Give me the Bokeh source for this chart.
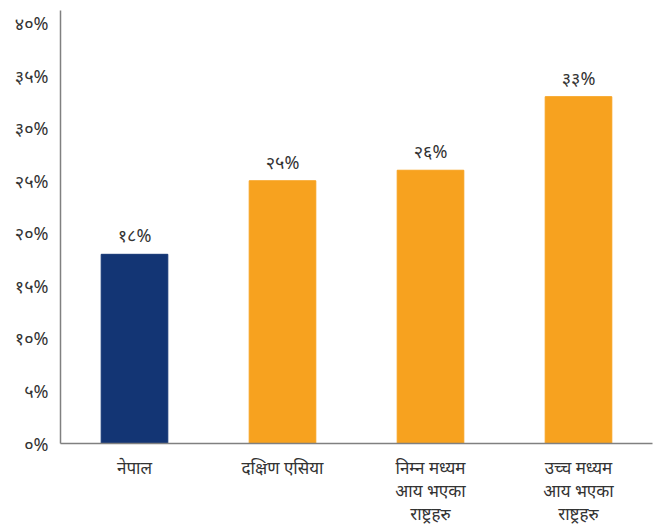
from bokeh.plotting import figure
from bokeh.models import ColumnDataSource, LabelSet, FixedTicker
from bokeh.embed import file_html
from bokeh.resources import INLINE
from bokeh.core.properties import value

categories = ["नेपाल", "दक्षिण एसिया", "निम्न मध्यम\nआय भएका\nराष्ट्रहरु", "उच्च मध्यम\nआय भएका\nराष्ट्रहरु"]
values = [18, 25, 26, 33]
value_labels = ["१८%", "२५%", "२६%", "३३%"]
colors = ["#133574", "#F7A21F", "#F7A21F", "#F7A21F"]
y_ticks = [0, 5, 10, 15, 20, 25, 30, 35, 40]
y_tick_labels = ["०%", "५%", "१०%", "१५%", "२०%", "२५%", "३०%", "३५%", "४०%"]

src = ColumnDataSource(dict(cat=categories, val=values, lab=value_labels, col=colors))

p = figure(x_range=categories, y_range=(0, 41.2), width=653, height=527,
           output_backend="svg", toolbar_location=None,
           min_border_left=60, min_border_right=1, min_border_top=10, min_border_bottom=84)
p.vbar(x="cat", top="val", width=0.45, color="col", source=src)

font = "Noto Sans"
labels = LabelSet(x="cat", y="val", text="lab", source=src, text_align="center",
                  text_baseline="bottom", y_offset=7, text_font_size="18px",
                  text_color="#333333", text_font=value(font))
p.add_layout(labels)

p.x_range.range_padding = 0
p.xgrid.grid_line_color = None
p.ygrid.grid_line_color = None
p.outline_line_color = None

p.yaxis.ticker = FixedTicker(ticks=y_ticks)
p.yaxis.major_label_overrides = {t: l for t, l in zip(y_ticks, y_tick_labels)}
for ax in (p.xaxis, p.yaxis):
    ax.axis_line_color = "#808080"
    ax.axis_line_width = 1.5
    ax.major_tick_line_color = None
    ax.minor_tick_line_color = None
    ax.major_label_text_font = font
    ax.major_label_text_font_size = "17px"
    ax.major_label_text_color = "#333333"
p.yaxis.major_label_text_font_size = "18px"
p.xaxis.major_label_text_line_height = 1.0
p.xaxis.major_label_standoff = 6
p.yaxis.major_label_standoff = 6

open("out.html", "w").write(file_html(p, INLINE))
